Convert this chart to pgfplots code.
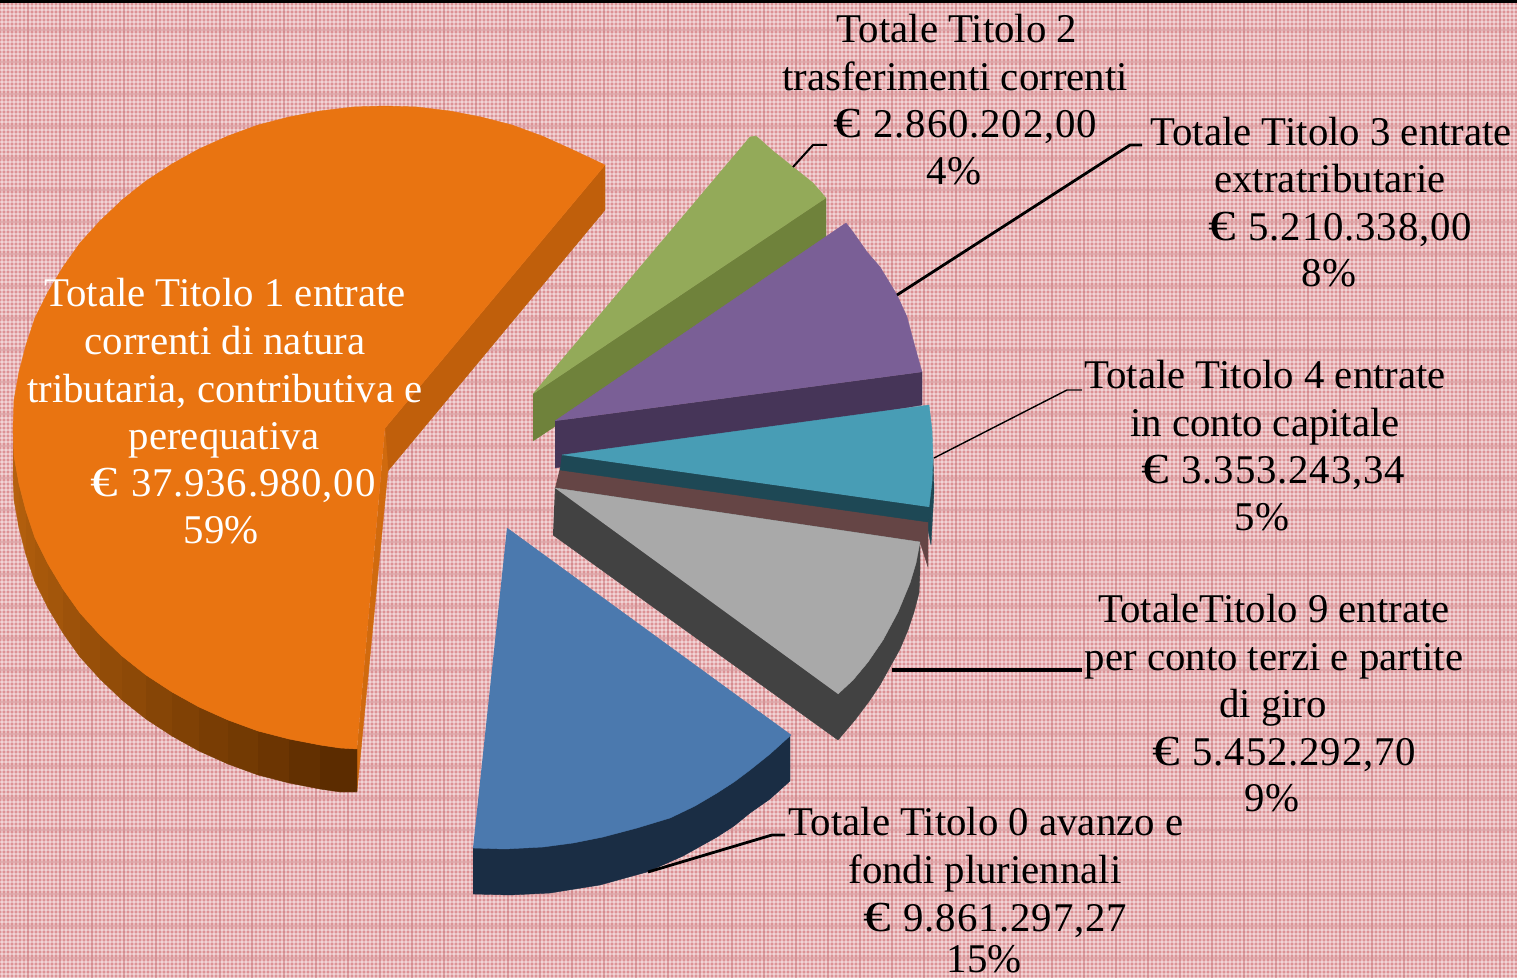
\documentclass[border=0pt]{standalone}
\usepackage{fontspec}
\setmainfont{Liberation Serif}
\usepackage{graphicx}
\usepackage{pgfplots}
\pgfplotsset{compat=1.18}
\definecolor{bgp}{RGB}{220,146,149}
\definecolor{bgl}{RGB}{205,130,134}
\definecolor{org}{RGB}{233,116,17}
\definecolor{orgs}{RGB}{192,95,11}
\definecolor{orgsl}{RGB}{208,106,14}
\definecolor{orga}{RGB}{184,98,14}
\definecolor{orgb}{RGB}{92,44,0}
\definecolor{grn}{RGB}{147,170,89}
\definecolor{grns}{RGB}{111,130,59}
\definecolor{pur}{RGB}{122,95,150}
\definecolor{purs}{RGB}{70,53,88}
\definecolor{tea}{RGB}{72,157,181}
\definecolor{teas}{RGB}{30,72,85}
\definecolor{brn}{RGB}{101,69,69}
\definecolor{gra}{RGB}{169,169,169}
\definecolor{gras}{RGB}{66,66,66}
\definecolor{blu}{RGB}{75,121,174}
\definecolor{blus}{RGB}{26,45,68}
\newcommand\poly[2]{\addplot[fill=#1,draw=#1,line width=0.2pt,line join=round,mark=none,forget plot] coordinates {#2};}
\newcommand\lbl[4][black]{\node[anchor=base,inner sep=0pt,text=#1,font=\fontsize{20.4pt}{24pt}\selectfont] at (axis cs:#2,#3) {#4};}
\newcommand\eur[1]{\scalebox{1.35}[1.05]{€}\hspace{6.5pt}{\addfontfeature{LetterSpace=2}#1}}
\begin{document}
\begin{tikzpicture}
\begin{axis}[
  scale only axis,width=758.5pt,height=489pt,
  xmin=0,xmax=1517,ymin=0,ymax=978,y dir=reverse,hide axis,
  clip=true]
\fill[bgp] (axis cs:0,0) rectangle (axis cs:1517,978);
\pgfplotsinvokeforeach{2,6,...,1516}{\draw[white,opacity=0.38,line width=0.6pt] (axis cs:#1,0) -- (axis cs:#1,978);}
\pgfplotsinvokeforeach{2,6,...,978}{\draw[white,opacity=0.38,line width=0.6pt] (axis cs:0,#1) -- (axis cs:1517,#1);}
\pgfplotsinvokeforeach{28,60,...,1516}{\draw[bgl,opacity=0.45,line width=0.6pt] (axis cs:#1,0) -- (axis cs:#1,978);}
\pgfplotsinvokeforeach{30,62,...,978}{\draw[bgl,opacity=0.45,line width=0.6pt] (axis cs:0,#1) -- (axis cs:1517,#1);}
\fill[black] (axis cs:0,0) rectangle (axis cs:1517,3);
% orange
\poly{orgs}{(605,165)(605,210)(387,472)(385,428)}
\poly{orgsl}{(385,428)(388,470)(357,791)(357,748)}
\poly{orga}{(13,428)(14,456)(14,500)(13,472)}
\poly{orga!97!orgb}{(14,456)(19,484)(19,528)(14,500)}
\poly{orga!92!orgb}{(19,484)(26,511)(26,555)(19,528)}
\poly{orga!87!orgb}{(26,511)(35,538)(35,582)(26,555)}
\poly{orga!82!orgb}{(35,538)(48,564)(48,608)(35,582)}
\poly{orga!77!orgb}{(48,564)(63,589)(63,633)(48,608)}
\poly{orga!71!orgb}{(63,589)(80,613)(80,657)(63,633)}
\poly{orga!65!orgb}{(80,613)(100,635)(100,679)(80,657)}
\poly{orga!59!orgb}{(100,635)(122,656)(122,700)(100,679)}
\poly{orga!53!orgb}{(122,656)(146,675)(146,719)(122,700)}
\poly{orga!46!orgb}{(146,675)(172,692)(172,736)(146,719)}
\poly{orga!39!orgb}{(172,692)(199,707)(199,751)(172,736)}
\poly{orga!32!orgb}{(199,707)(228,720)(228,764)(199,751)}
\poly{orga!25!orgb}{(228,720)(258,731)(258,775)(228,764)}
\poly{orga!17!orgb}{(258,731)(289,739)(289,783)(258,775)}
\poly{orga!8!orgb}{(289,739)(320,745)(320,789)(289,783)}
\poly{orgb}{(320,745)(340,748)(357,749)(357,792)(340,792)(320,789)}
\poly{org}{(385,428)(605,165)(571,149)(542,136)(512,125)(481,117)(450,111)(417,107)(385,106)(353,107)(320,111)(289,117)(258,125)(228,136)(199,149)(172,164)(146,181)(122,200)(100,221)(80,243)(63,267)(48,292)(35,318)(26,345)(19,372)(14,400)(13,428)(14,456)(19,484)(26,511)(35,538)(48,564)(63,589)(80,613)(100,635)(122,656)(146,675)(172,692)(199,707)(228,720)(258,731)(289,739)(320,745)(340,748)(357,749)}
% green
\poly{grns}{(533,394)(826,198)(826,245)(533,441)}
\poly{grn}{(533,394)(750,137)(756,136)(773,151)(793,167)(813,183)(826,198)}
% purple
\poly{purs}{(555,421)(922,372)(922,405)(555,468)}
\poly{pur}{(555,421)(846,223)(853,232)(867,252)(880,267)(897,295)(907,317)(915,347)(922,372)}
% teal
\poly{teas}{(562,455)(929,507)(933,457)(934,490)(931,545)(928,530)(560,470)}
\poly{brn}{(560,468)(928,520)(928,567)(920,542)(555,488)}
\poly{teas}{(562,455)(929,507)(928,522)(560,470)}
\poly{tea}{(562,455)(929,405)(932,430)(933,457)(932,482)(929,507)}
% gray
\poly{gras}{(555,488)(920,542)(920,570)(919,593)(914,612)(908,630)(900,649)(890,667)(880,685)(870,700)(855,720)(838,740)(553,535)}
\poly{gra}{(555,488)(920,542)(916,563)(910,583)(898,612)(883,640)(868,662)(853,680)(838,694)}
% blue
\poly{blus}{(473,848)(790,736)(790,781)(770,799)(750,813)(734,826)(717,837)(683,856)(647,872)(600,885)(550,893)(510,895)(473,894)}
\poly{blu}{(507,528)(791,735)(770,754)(750,770)(734,782)(717,793)(695,806)(670,818)(637,828)(603,837)(573,843)(543,847)(505,849)(473,848)}
% leaders
\addplot[black,line width=1pt,mark=none,forget plot] coordinates {(793,167)(813,145)(827,145)};
\addplot[black,line width=1.4pt,mark=none,forget plot] coordinates {(897,295)(1130,145)(1142,145)};
\addplot[black,line width=0.7pt,mark=none,forget plot] coordinates {(934,458)(1067,390)(1082,390)};
\addplot[black,line width=2.4pt,mark=none,forget plot] coordinates {(892,670)(1082,670)};
\addplot[black,line width=1.4pt,mark=none,forget plot] coordinates {(648,872)(772,835)(785,835)};
% labels
\lbl{957}{43}{Totale Titolo 2}
\lbl{955}{91}{trasferimenti correnti}
\lbl{965}{138}{\eur{2.860.202,00}}
\lbl{954}{185}{4\%}
\lbl{1331}{146}{Totale Titolo 3 entrate}
\lbl{1330}{193}{extratributarie}
\lbl{1340}{241}{\eur{5.210.338,00}}
\lbl{1329}{287}{8\%}
\lbl{1265}{389}{Totale Titolo 4 entrate}
\lbl{1265}{437}{in conto capitale}
\lbl{1273}{484}{\eur{3.353.243,34}}
\lbl{1262}{531}{5\%}
\lbl{1274}{623}{TotaleTitolo 9 entrate}
\lbl{1274}{671}{per conto terzi e partite}
\lbl{1273}{718}{di giro}
\lbl{1284}{765}{\eur{5.452.292,70}}
\lbl{1272}{812}{9\%}
\lbl{986}{835}{Totale Titolo 0 avanzo e}
\lbl{985}{883}{fondi pluriennali}
\lbl{995}{931}{\eur{9.861.297,27}}
\lbl{984}{972}{15\%}
\lbl[white]{225}{307}{Totale Titolo 1 entrate}
\lbl[white]{225}{355}{correnti di natura}
\lbl[white]{225}{403}{tributaria, contributiva e}
\lbl[white]{224}{450}{perequativa}
\lbl[white]{233}{497}{\eur{37.936.980,00}}
\lbl[white]{221}{544}{59\%}
\end{axis}
\end{tikzpicture}
\end{document}
